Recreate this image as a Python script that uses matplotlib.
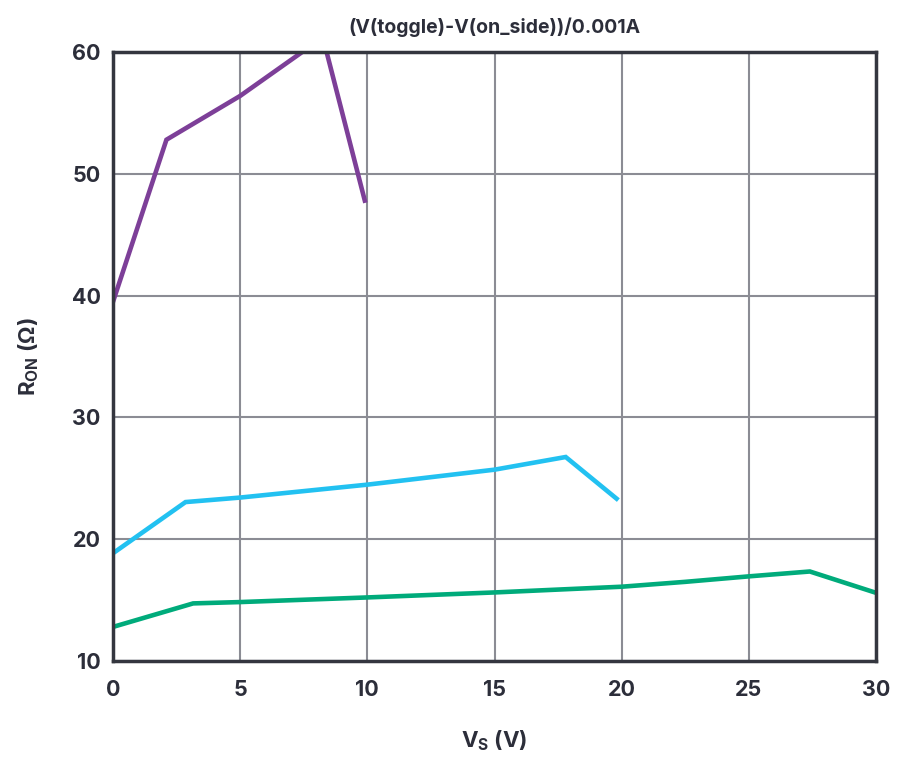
import matplotlib
matplotlib.use("Agg")
import matplotlib.pyplot as plt

# values
vs_purple = [0.0, 2.1, 5.0, 8.25, 9.9]
ron_purple = [39.5, 52.8, 56.4, 61.2, 47.8]

vs_cyan = [0.0, 2.85, 5.0, 10.0, 15.0, 17.8, 19.8]
ron_cyan = [18.85, 23.05, 23.42, 24.48, 25.71, 26.75, 23.33]

vs_green = [0.0, 3.15, 5.0, 10.0, 15.0, 20.0, 22.5, 25.0, 27.4, 30.0]
ron_green = [12.8, 14.73, 14.84, 15.22, 15.63, 16.1, 16.5, 16.95, 17.35, 15.6]

x_ticks = [0, 5, 10, 15, 20, 25, 30]
y_ticks = [10, 20, 30, 40, 50, 60]

text_color = "#2c2e3a"
plt.rcParams["font.family"] = ["Inter", "DejaVu Sans"]
plt.rcParams["font.weight"] = "bold"
plt.rcParams["mathtext.fontset"] = "custom"
plt.rcParams["mathtext.rm"] = "Inter:bold"
plt.rcParams["mathtext.bf"] = "Inter:bold"
plt.rcParams["mathtext.default"] = "bf"


def main():
    fig = plt.figure(figsize=(9, 7.64), dpi=100)
    ax = fig.add_axes([0.1256, 0.1348, 0.8477, 0.7971])

    ax.plot(vs_purple, ron_purple, color="#7d3f98", lw=3.3, solid_joinstyle="miter")
    ax.plot(vs_cyan, ron_cyan, color="#22c1f1", lw=3.3, solid_joinstyle="miter")
    ax.plot(vs_green, ron_green, color="#00ab7b", lw=3.3, solid_joinstyle="miter")

    ax.set_xlim(0, 30)
    ax.set_ylim(10, 60)
    ax.set_xticks(x_ticks)
    ax.set_yticks(y_ticks)
    ax.grid(True, color="#8b8c94", lw=1.5)
    ax.set_axisbelow(True)

    for side in ax.spines.values():
        side.set_color("#34363f")
        side.set_linewidth(2.5)

    ax.tick_params(axis="both", length=0, labelsize=15.5, labelcolor=text_color)
    ax.tick_params(axis="x", pad=14)
    ax.tick_params(axis="y", pad=9)
    for lbl in ax.get_xticklabels() + ax.get_yticklabels():
        lbl.set_fontweight("bold")

    ax.set_title("(V(toggle)-V(on_side))/0.001A", fontsize=14, fontweight="bold",
                 color=text_color, pad=14)
    ax.set_xlabel(r"V$_{S}$ (V)", fontsize=16, fontweight="bold",
                  color=text_color, labelpad=20)
    ax.set_ylabel(r"R$_{ON}$ ($\Omega$)", fontsize=16,
                  fontweight="bold", color=text_color, labelpad=22)

    fig.savefig("out.png", dpi=100)


if __name__ == "__main__":
    main()
